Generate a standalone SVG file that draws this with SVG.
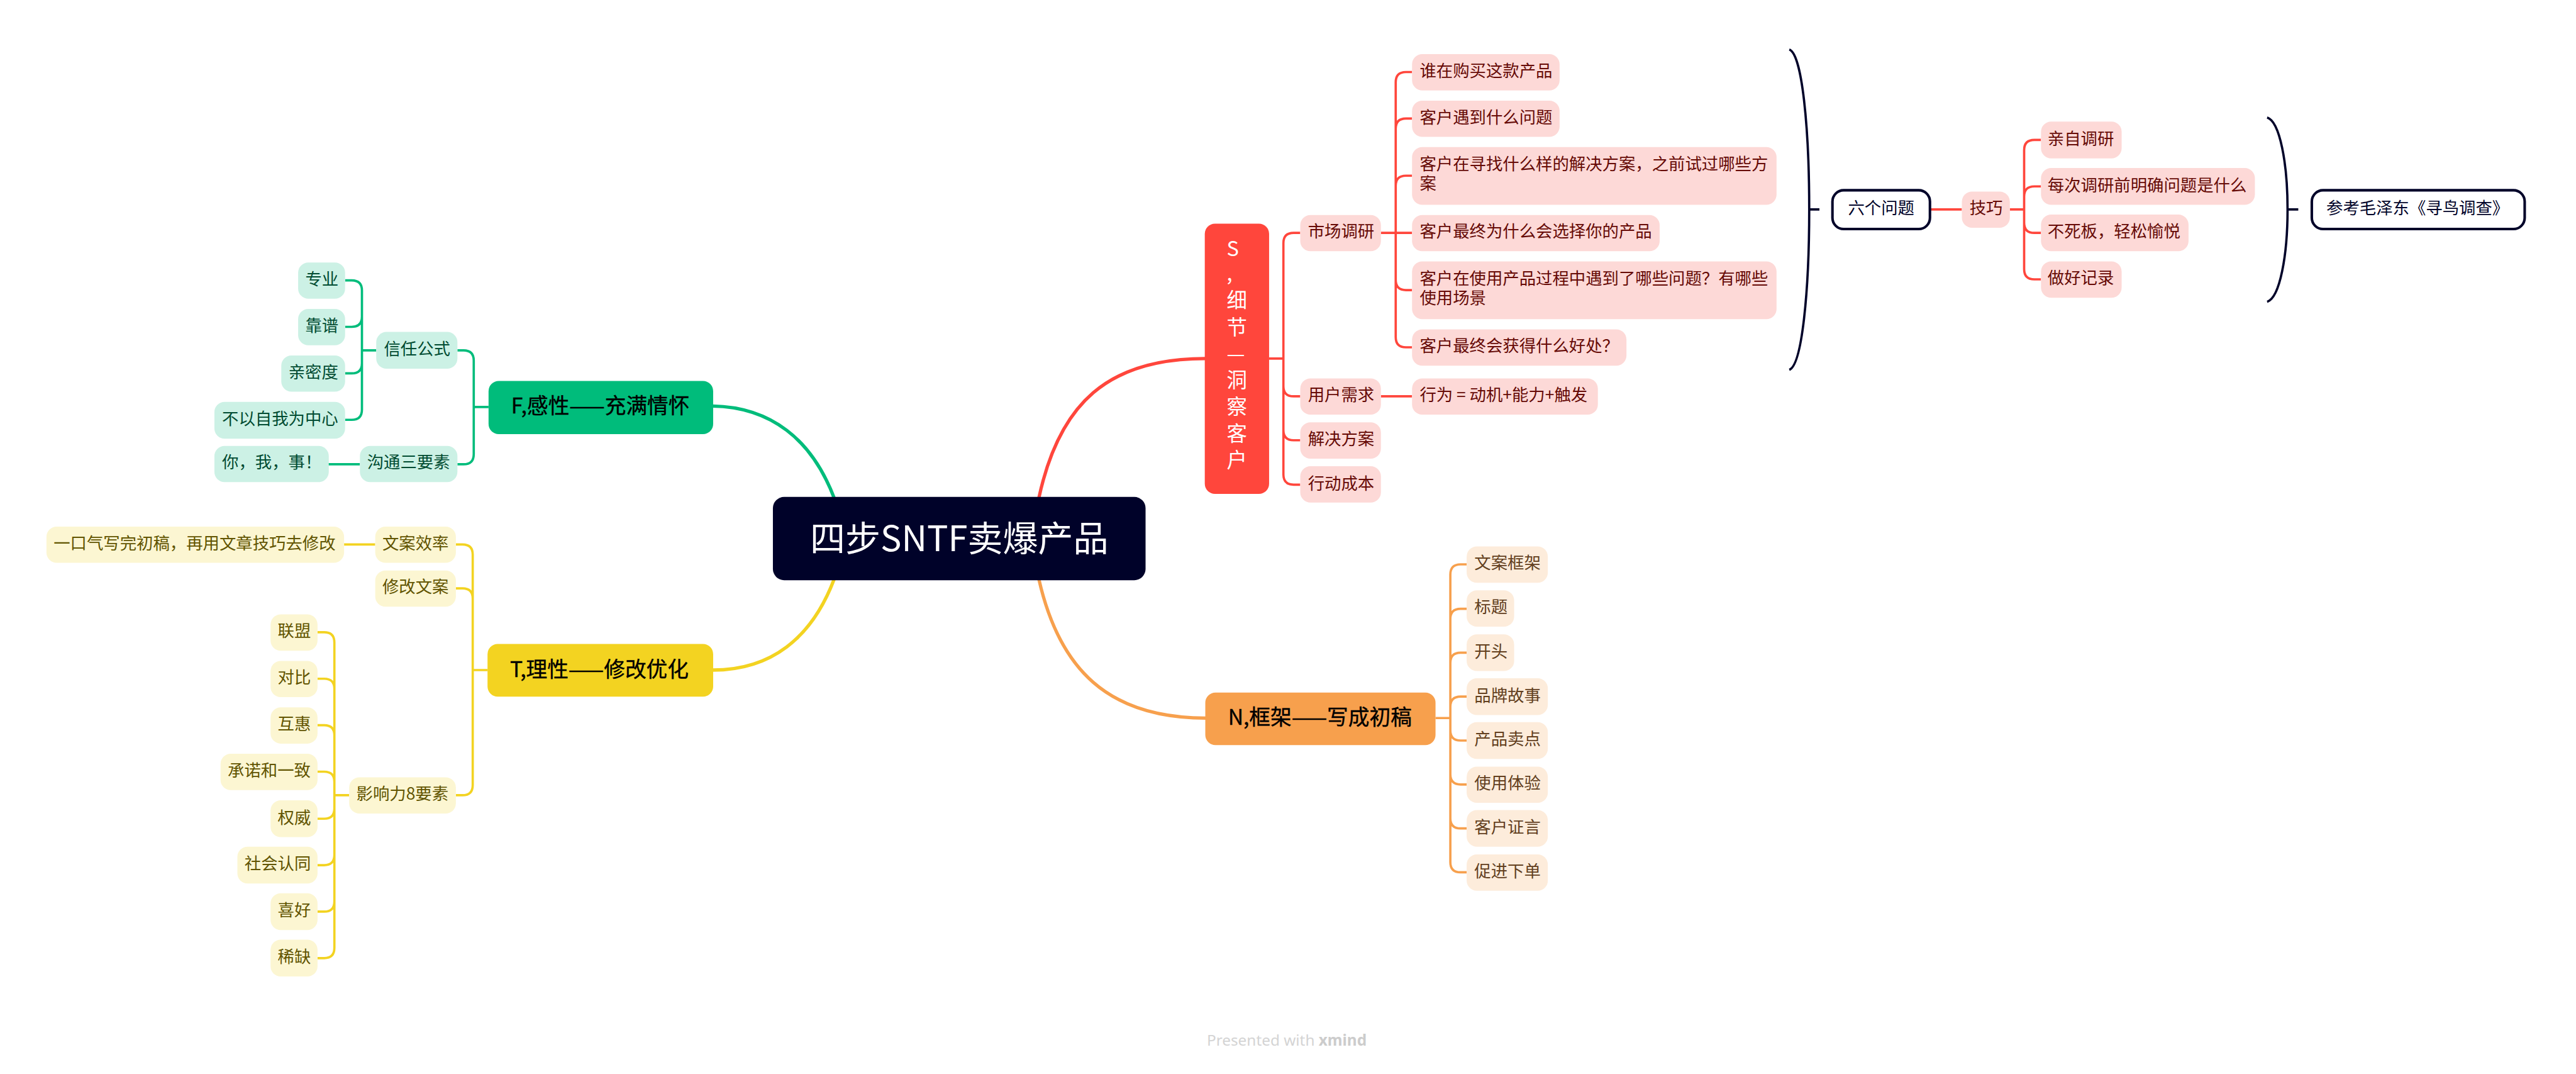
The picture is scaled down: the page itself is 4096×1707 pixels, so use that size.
<svg xmlns="http://www.w3.org/2000/svg" width="4096" height="1707" viewBox="0 0 4096 1707">
<style>
text{font-family:"Noto Sans CJK SC","Noto Sans",sans-serif;font-size:32.5px}
.c{fill:none;stroke-width:4.5;stroke-linecap:butt}
.main{fill:none;stroke-width:6.5}
.r{stroke:#ff463c}.o{stroke:#f7a04d}.g{stroke:#00bc7b}.y{stroke:#f3d321}.d{stroke:#000229}
.lr{fill:#fdd9d7}.lo{fill:#fdecdb}.lg{fill:#ccf1e5}.ly{fill:#fcf6d2}
.tr{fill:#660a06}.to{fill:#623f1e}.tg{fill:#004b31}.ty{fill:#615400}
.big{font-size:41.5px;text-anchor:middle;fill:#000;stroke:#000;stroke-width:.5px}
.box{fill:#fff;stroke:#000229;stroke-width:5}
.td{fill:#000229}
</style>
<rect width="4096" height="1707" fill="#fff"/>
<g transform="scale(0.81173)">
<g id="connectors">
<path class="main r" d="M2035 975C2075 790 2170 702 2361 702"/>
<path class="main o" d="M2035 1134C2075 1310 2170 1406 2362 1406"/>
<path class="main g" d="M1396 795C1510 797 1590 860 1634 975"/>
<path class="main y" d="M1396 1312C1510 1312 1590 1250 1634 1134"/>
<path class="c r" d="M2486 702H2514M2547 456H2534Q2514 456 2514 476V929Q2514 949 2534 949H2547M2514 756Q2514 776 2534 776H2547M2514 842Q2514 862 2534 862H2547"/>
<path class="c r" d="M2705 456H2766M2766 141H2754Q2734 141 2734 161V660Q2734 680 2754 680H2766M2734 252Q2734 232 2754 232H2766M2734 364Q2734 344 2754 344H2766M2734 548Q2734 568 2754 568H2766"/>
<path class="c r" d="M2705 776H2766M3780 410H3843M3937 410H3965M3998 274H3985Q3965 274 3965 294V527Q3965 547 3985 547H3998M3965 385Q3965 365 3985 365H3998M3965 436Q3965 456 3985 456H3998"/>
<path class="c d" d="M3505 97C3530 105 3544 250 3544 410C3544 570 3530 715 3505 724M3544 410H3564"/>
<path class="c d" d="M4441 230C4466 238 4481 320 4481 410C4481 500 4466 583 4441 591M4481 410H4502"/>
<path class="c o" d="M2812 1406H2841M2873 1105H2861Q2841 1105 2841 1125V1688Q2841 1708 2861 1708H2873M2841 1212Q2841 1192 2861 1192H2873M2841 1298Q2841 1278 2861 1278H2873M2841 1384Q2841 1364 2861 1364H2873M2841 1430Q2841 1450 2861 1450H2873M2841 1516Q2841 1536 2861 1536H2873M2841 1602Q2841 1622 2861 1622H2873"/>
<path class="c g" d="M957 797H928M896 686H908Q928 686 928 706V889Q928 909 908 909H896M737 686H709M676 549H689Q709 549 709 569V802Q709 822 689 822H676M709 620Q709 640 689 640H676M709 711Q709 731 689 731H676M705 909H643"/>
<path class="c y" d="M955 1312H926M893 1066H906Q926 1066 926 1086V1537Q926 1557 906 1557H893M926 1172Q926 1152 906 1152H893M735 1066H674M684 1557H655M622 1238H635Q655 1238 655 1258V1856Q655 1876 635 1876H622M655 1349Q655 1329 635 1329H622M655 1440Q655 1420 635 1420H622M655 1531Q655 1511 635 1511H622M655 1583Q655 1603 635 1603H622M655 1674Q655 1694 635 1694H622M655 1765Q655 1785 635 1785H622"/>
</g>

<g id="center"><rect x="1514" y="973" width="730" height="163" rx="22" fill="#000229"/><text x="1879" y="1079" text-anchor="middle" fill="#fff" style="font-size:69px">四步SNTF卖爆产品</text></g>

<g id="branch-s"><rect x="2360" y="438" width="126" height="529" rx="20" fill="#ff463c"/>
<text fill="#fff" style="font-size:40px"><tspan x="2403" y="501">S</tspan><tspan x="2403" y="549">,</tspan><tspan x="2403" y="603">细</tspan><tspan x="2403" y="655">节</tspan><tspan x="2403" y="707">—</tspan><tspan x="2403" y="759">洞</tspan><tspan x="2403" y="811">察</tspan><tspan x="2403" y="863">客</tspan><tspan x="2403" y="915">户</tspan></text></g>

<g id="s1"><rect class="lr" x="2547" y="421" width="158" height="71" rx="20"/><text class="tr" x="2562" y="465">市场调研</text></g>
<g id="s1a"><rect class="lr" x="2766" y="106" width="289" height="71" rx="20"/><text class="tr" x="2781" y="150">谁在购买这款产品</text></g>
<g id="s1b"><rect class="lr" x="2766" y="197" width="289" height="71" rx="20"/><text class="tr" x="2781" y="241">客户遇到什么问题</text></g>
<g id="s1c"><rect class="lr" x="2766" y="288" width="714" height="113" rx="20"/><text class="tr"><tspan x="2781" y="333">客户在寻找什么样的解决方案，之前试过哪些方</tspan><tspan x="2781" y="371">案</tspan></text></g>
<g id="s1d"><rect class="lr" x="2766" y="421" width="485" height="71" rx="20"/><text class="tr" x="2781" y="465">客户最终为什么会选择你的产品</text></g>
<g id="s1e"><rect class="lr" x="2766" y="512" width="714" height="113" rx="20"/><text class="tr"><tspan x="2781" y="557">客户在使用产品过程中遇到了哪些问题？有哪些</tspan><tspan x="2781" y="595">使用场景</tspan></text></g>
<g id="s1f"><rect class="lr" x="2766" y="645" width="420" height="71" rx="20"/><text class="tr" x="2781" y="689">客户最终会获得什么好处？</text></g>
<g id="s2"><rect class="lr" x="2547" y="741" width="158" height="71" rx="20"/><text class="tr" x="2562" y="785">用户需求</text></g>
<g id="s2a"><rect class="lr" x="2766" y="741" width="364" height="71" rx="20"/><text class="tr" x="2781" y="785">行为 = 动机+能力+触发</text></g>
<g id="s3"><rect class="lr" x="2547" y="827" width="158" height="71" rx="20"/><text class="tr" x="2562" y="871">解决方案</text></g>
<g id="s4"><rect class="lr" x="2547" y="913" width="158" height="71" rx="20"/><text class="tr" x="2562" y="958">行动成本</text></g>

<g id="six"><rect class="box" x="3589.5" y="372.5" width="191" height="76" rx="22"/><text class="td" x="3620" y="419">六个问题</text></g>
<g id="tips"><rect class="lr" x="3843" y="375" width="94" height="71" rx="20"/><text class="tr" x="3858" y="419">技巧</text></g>
<g id="t1"><rect class="lr" x="3998" y="238" width="158" height="72" rx="20"/><text class="tr" x="4011" y="283">亲自调研</text></g>
<g id="t2"><rect class="lr" x="3998" y="329" width="419" height="72" rx="20"/><text class="tr" x="4011" y="374">每次调研前明确问题是什么</text></g>
<g id="t3"><rect class="lr" x="3998" y="420" width="289" height="72" rx="20"/><text class="tr" x="4011" y="465">不死板，轻松愉悦</text></g>
<g id="t4"><rect class="lr" x="3998" y="512" width="158" height="71" rx="20"/><text class="tr" x="4011" y="556">做好记录</text></g>
<g id="ref"><rect class="box" x="4528.5" y="372.5" width="417" height="76" rx="22"/><text class="td" x="4557" y="419">参考毛泽东《寻鸟调查》</text></g>

<g id="branch-n"><rect x="2361" y="1356" width="451" height="103" rx="20" fill="#f7a04d"/><text class="big" x="2585.5" y="1419">N,框架——写成初稿</text></g>
<g id="n1"><rect class="lo" x="2873" y="1070" width="159" height="71" rx="20"/><text class="to" x="2888" y="1114">文案框架</text></g>
<g id="n2"><rect class="lo" x="2873" y="1156" width="93" height="71" rx="20"/><text class="to" x="2888" y="1200">标题</text></g>
<g id="n3"><rect class="lo" x="2873" y="1242" width="93" height="72" rx="20"/><text class="to" x="2888" y="1287">开头</text></g>
<g id="n4"><rect class="lo" x="2873" y="1328" width="159" height="72" rx="20"/><text class="to" x="2888" y="1373">品牌故事</text></g>
<g id="n5"><rect class="lo" x="2873" y="1414" width="159" height="72" rx="20"/><text class="to" x="2888" y="1459">产品卖点</text></g>
<g id="n6"><rect class="lo" x="2873" y="1501" width="159" height="71" rx="20"/><text class="to" x="2888" y="1545">使用体验</text></g>
<g id="n7"><rect class="lo" x="2873" y="1586" width="159" height="72" rx="20"/><text class="to" x="2888" y="1631">客户证言</text></g>
<g id="n8"><rect class="lo" x="2873" y="1673" width="159" height="71" rx="20"/><text class="to" x="2888" y="1717">促进下单</text></g>

<g id="branch-f"><rect x="957" y="746" width="440" height="104" rx="20" fill="#00bc7b"/><text class="big" x="1176" y="809">F,感性——充满情怀</text></g>
<g id="f1"><rect class="lg" x="737" y="650" width="159" height="72" rx="20"/><text class="tg" x="752" y="695">信任公式</text></g>
<g id="f1a"><rect class="lg" x="584" y="514" width="92" height="71" rx="20"/><text class="tg" x="598" y="558">专业</text></g>
<g id="f1b"><rect class="lg" x="584" y="605" width="92" height="71" rx="20"/><text class="tg" x="598" y="649">靠谱</text></g>
<g id="f1c"><rect class="lg" x="551" y="696" width="125" height="71" rx="20"/><text class="tg" x="565" y="740">亲密度</text></g>
<g id="f1d"><rect class="lg" x="420" y="787" width="256" height="72" rx="20"/><text class="tg" x="435" y="832">不以自我为中心</text></g>
<g id="f2"><rect class="lg" x="705" y="873" width="191" height="71" rx="20"/><text class="tg" x="719" y="917">沟通三要素</text></g>
<g id="f2a"><rect class="lg" x="420" y="873" width="224" height="71" rx="20"/><text class="tg" x="435" y="917">你，我，事！</text></g>

<g id="branch-t"><rect x="955" y="1261" width="442" height="103" rx="20" fill="#f3d321"/><text class="big" x="1174" y="1325">T,理性——修改优化</text></g>
<g id="y1"><rect class="ly" x="735" y="1031" width="158" height="71" rx="20"/><text class="ty" x="749" y="1075">文案效率</text></g>
<g id="y1a"><rect class="ly" x="91" y="1031" width="583" height="71" rx="20"/><text class="ty" x="105" y="1075">一口气写完初稿，再用文章技巧去修改</text></g>
<g id="y2"><rect class="ly" x="735" y="1117" width="158" height="71" rx="20"/><text class="ty" x="749" y="1161">修改文案</text></g>
<g id="y3"><rect class="ly" x="684" y="1522" width="209" height="71" rx="20"/><text class="ty" x="698" y="1566">影响力8要素</text></g>
<g id="y3a"><rect class="ly" x="530" y="1203" width="92" height="71" rx="20"/><text class="ty" x="544" y="1247">联盟</text></g>
<g id="y3b"><rect class="ly" x="530" y="1294" width="92" height="71" rx="20"/><text class="ty" x="544" y="1338">对比</text></g>
<g id="y3c"><rect class="ly" x="530" y="1385" width="92" height="71" rx="20"/><text class="ty" x="544" y="1429">互惠</text></g>
<g id="y3d"><rect class="ly" x="432" y="1476" width="190" height="71" rx="20"/><text class="ty" x="446" y="1520">承诺和一致</text></g>
<g id="y3e"><rect class="ly" x="530" y="1567" width="92" height="72" rx="20"/><text class="ty" x="544" y="1612">权威</text></g>
<g id="y3f"><rect class="ly" x="465" y="1658" width="157" height="72" rx="20"/><text class="ty" x="479" y="1703">社会认同</text></g>
<g id="y3g"><rect class="ly" x="530" y="1749" width="92" height="72" rx="20"/><text class="ty" x="544" y="1794">喜好</text></g>
<g id="y3h"><rect class="ly" x="530" y="1840" width="92" height="72" rx="20"/><text class="ty" x="544" y="1885">稀缺</text></g>

<text x="2364" y="2047" fill="#d4d4d4" style="font-family:'Noto Sans',sans-serif;font-size:30px">Presented with <tspan font-weight="700" fill="#cccccc">xmind</tspan></text>
</g>
</svg>
